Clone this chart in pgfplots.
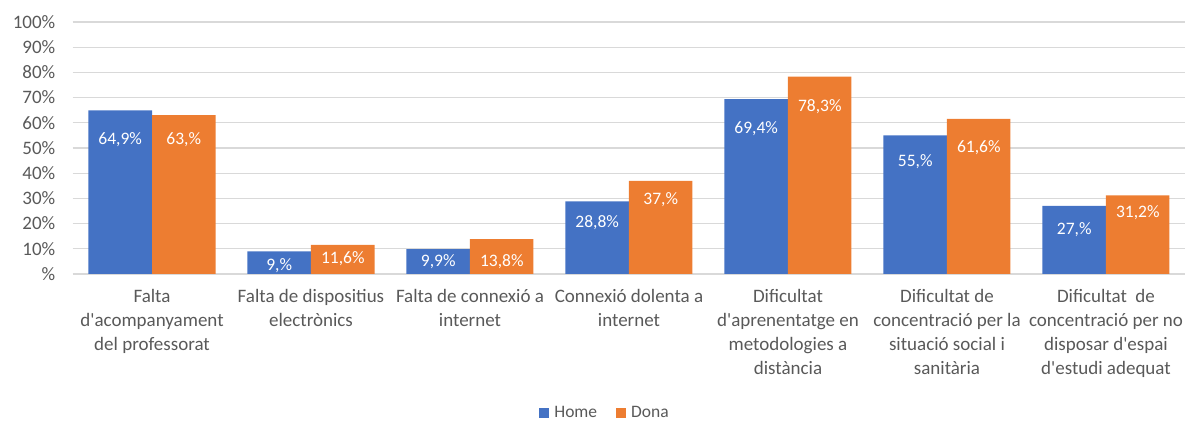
\documentclass[border=0pt]{standalone}
\usepackage{fontspec}
\setmainfont{Carlito}[Ligatures=TeXOff]
\usepackage{pgfplots}
\usepackage{pgfplotstable}
\pgfplotsset{compat=1.18}
\definecolor{cblue}{HTML}{4472C4}
\definecolor{corange}{HTML}{ED7D31}
\definecolor{ctext}{HTML}{595959}
\definecolor{cgrid}{HTML}{D9D9D9}

\pgfplotstableread{
x home dona hy dy hl dl
0 64.9 63.0 53.2 53.2 64,9 63,
1 9.0 11.6 3.2 6.1 9, 11,6
2 9.9 13.8 4.9 4.9 9,9 13,8
3 28.8 37.0 20.2 29.6 28,8 37,
4 69.4 78.3 57.8 66.4 69,4 78,3
5 55.0 61.6 44.6 50.3 55, 61,6
6 27.0 31.2 17.5 24.5 27, 31,2
}\data

\begin{document}
\begin{tikzpicture}
\begin{axis}[
  at={(72.5pt,146pt)}, anchor=south west,
  scale only axis, width=1113pt, height=252pt,
  xmin=-0.5, xmax=6.5, ymin=0, ymax=100,
  xtick={0,...,6},
  xticklabels={
    {Falta\\d'acompanyament\\del professorat},
    {Falta de dispositius\\electrònics},
    {Falta de connexió a\\internet},
    {Connexió dolenta a\\internet},
    {Dificultat\\d'aprenentatge en\\metodologies a\\distància},
    {Dificultat de\\concentració per la\\situació social i\\sanitària},
    {Dificultat\ \ de\\concentració per no\\disposar d'espai\\d'estudi adequat}},
  ytick={0,10,...,100},
  yticklabels={\%,10\%,20\%,30\%,40\%,50\%,60\%,70\%,80\%,90\%,100\%},
  ymajorgrids, grid style={cgrid, line width=1.3pt},
  axis line style={draw=none}, major tick length=0pt,
  tick label style={text=ctext, font=\fontsize{19}{24}\selectfont},
  xticklabel style={align=center, inner sep=0pt, anchor=north, yshift=-15pt},
  yticklabel style={inner sep=0pt, anchor=east, xshift=-17pt},
  legend style={at={(0.4785,-0.5516)}, anchor=center, draw=none, fill=none,
    legend columns=2, font=\fontsize{17.5}{20}\selectfont, text=ctext,
    /tikz/every even column/.append style={column sep=17pt}},
  legend image code/.code={\fill[#1] (0pt,-5pt) rectangle (10pt,5pt); \path (13pt,0pt);},
  clip=false,
]
\addplot[ybar, bar width=63.5pt, bar shift=-31.75pt, fill=cblue, draw=none] table[x=x,y=home]{\data};
\addlegendentry{Home}
\addplot[ybar, bar width=63.5pt, bar shift=31.75pt, fill=corange, draw=none] table[x=x,y=dona]{\data};
\addlegendentry{Dona}
\addplot[forget plot, draw=none, mark=none, nodes near coords={\pgfplotspointmeta\%},
  point meta=explicit symbolic, nodes near coords align={center},
  every node near coord/.style={text=white, font=\fontsize{17.5}{20}\selectfont, anchor=center}]
  table[x expr=\thisrow{x}-0.2, y=hy, meta=hl]{\data};
\addplot[forget plot, draw=none, mark=none, nodes near coords={\pgfplotspointmeta\%},
  point meta=explicit symbolic, nodes near coords align={center},
  every node near coord/.style={text=white, font=\fontsize{17.5}{20}\selectfont, anchor=center}]
  table[x expr=\thisrow{x}+0.2, y=dy, meta=dl]{\data};
\end{axis}
\pgfresetboundingbox
\useasboundingbox (0,0) rectangle (1185pt,420pt);
\end{tikzpicture}
\end{document}
